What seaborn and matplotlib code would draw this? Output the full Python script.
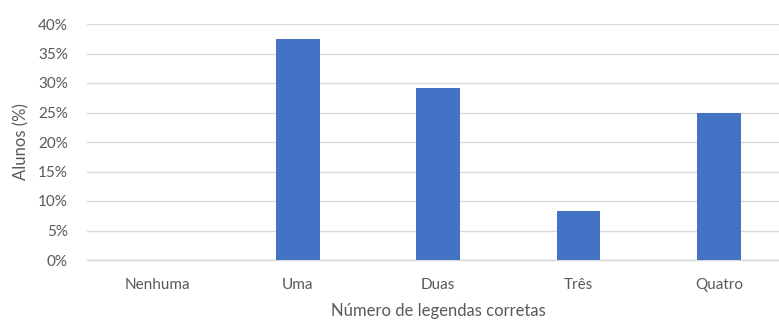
import matplotlib
matplotlib.use("Agg")
import matplotlib.pyplot as plt
import seaborn as sns
import pandas as pd
from matplotlib.ticker import FuncFormatter, MultipleLocator

categories = ["Nenhuma", "Uma", "Duas", "Três", "Quatro"]
values = [0.0, 37.5, 29.17, 8.33, 25.0]

df = pd.DataFrame({"cat": categories, "val": values})

sns.set_theme(style="white")
plt.rcParams["font.family"] = ["Lato", "DejaVu Sans"]

fig = plt.figure(figsize=(7.79, 3.2), dpi=100)
ax = fig.add_axes([0.112, 0.1875, 0.901, 0.7375])

sns.barplot(data=df, x="cat", y="val", color="#4472C4", width=0.31,
            saturation=1, linewidth=0, ax=ax, zorder=3)

ax.set_ylim(0, 40)
ax.yaxis.set_major_locator(MultipleLocator(5))
ax.yaxis.set_major_formatter(FuncFormatter(lambda v, p: f"{int(v)}%"))
ax.grid(axis="y", color="#D9D9D9", linewidth=1, zorder=0)
ax.set_axisbelow(True)
for s in ["top", "right", "left"]:
    ax.spines[s].set_visible(False)
ax.spines["bottom"].set_color("#D9D9D9")
ax.spines["bottom"].set_linewidth(1)
ax.tick_params(axis="both", length=0, colors="#595959", labelsize=11)
ax.tick_params(axis="y", pad=14)
ax.tick_params(axis="x", pad=13)
ax.set_xlabel("Número de legendas corretas", color="#595959", fontsize=12, labelpad=8)
ax.set_ylabel("Alunos (%)", color="#595959", fontsize=12, labelpad=6)

fig.savefig("out.png", dpi=100)
